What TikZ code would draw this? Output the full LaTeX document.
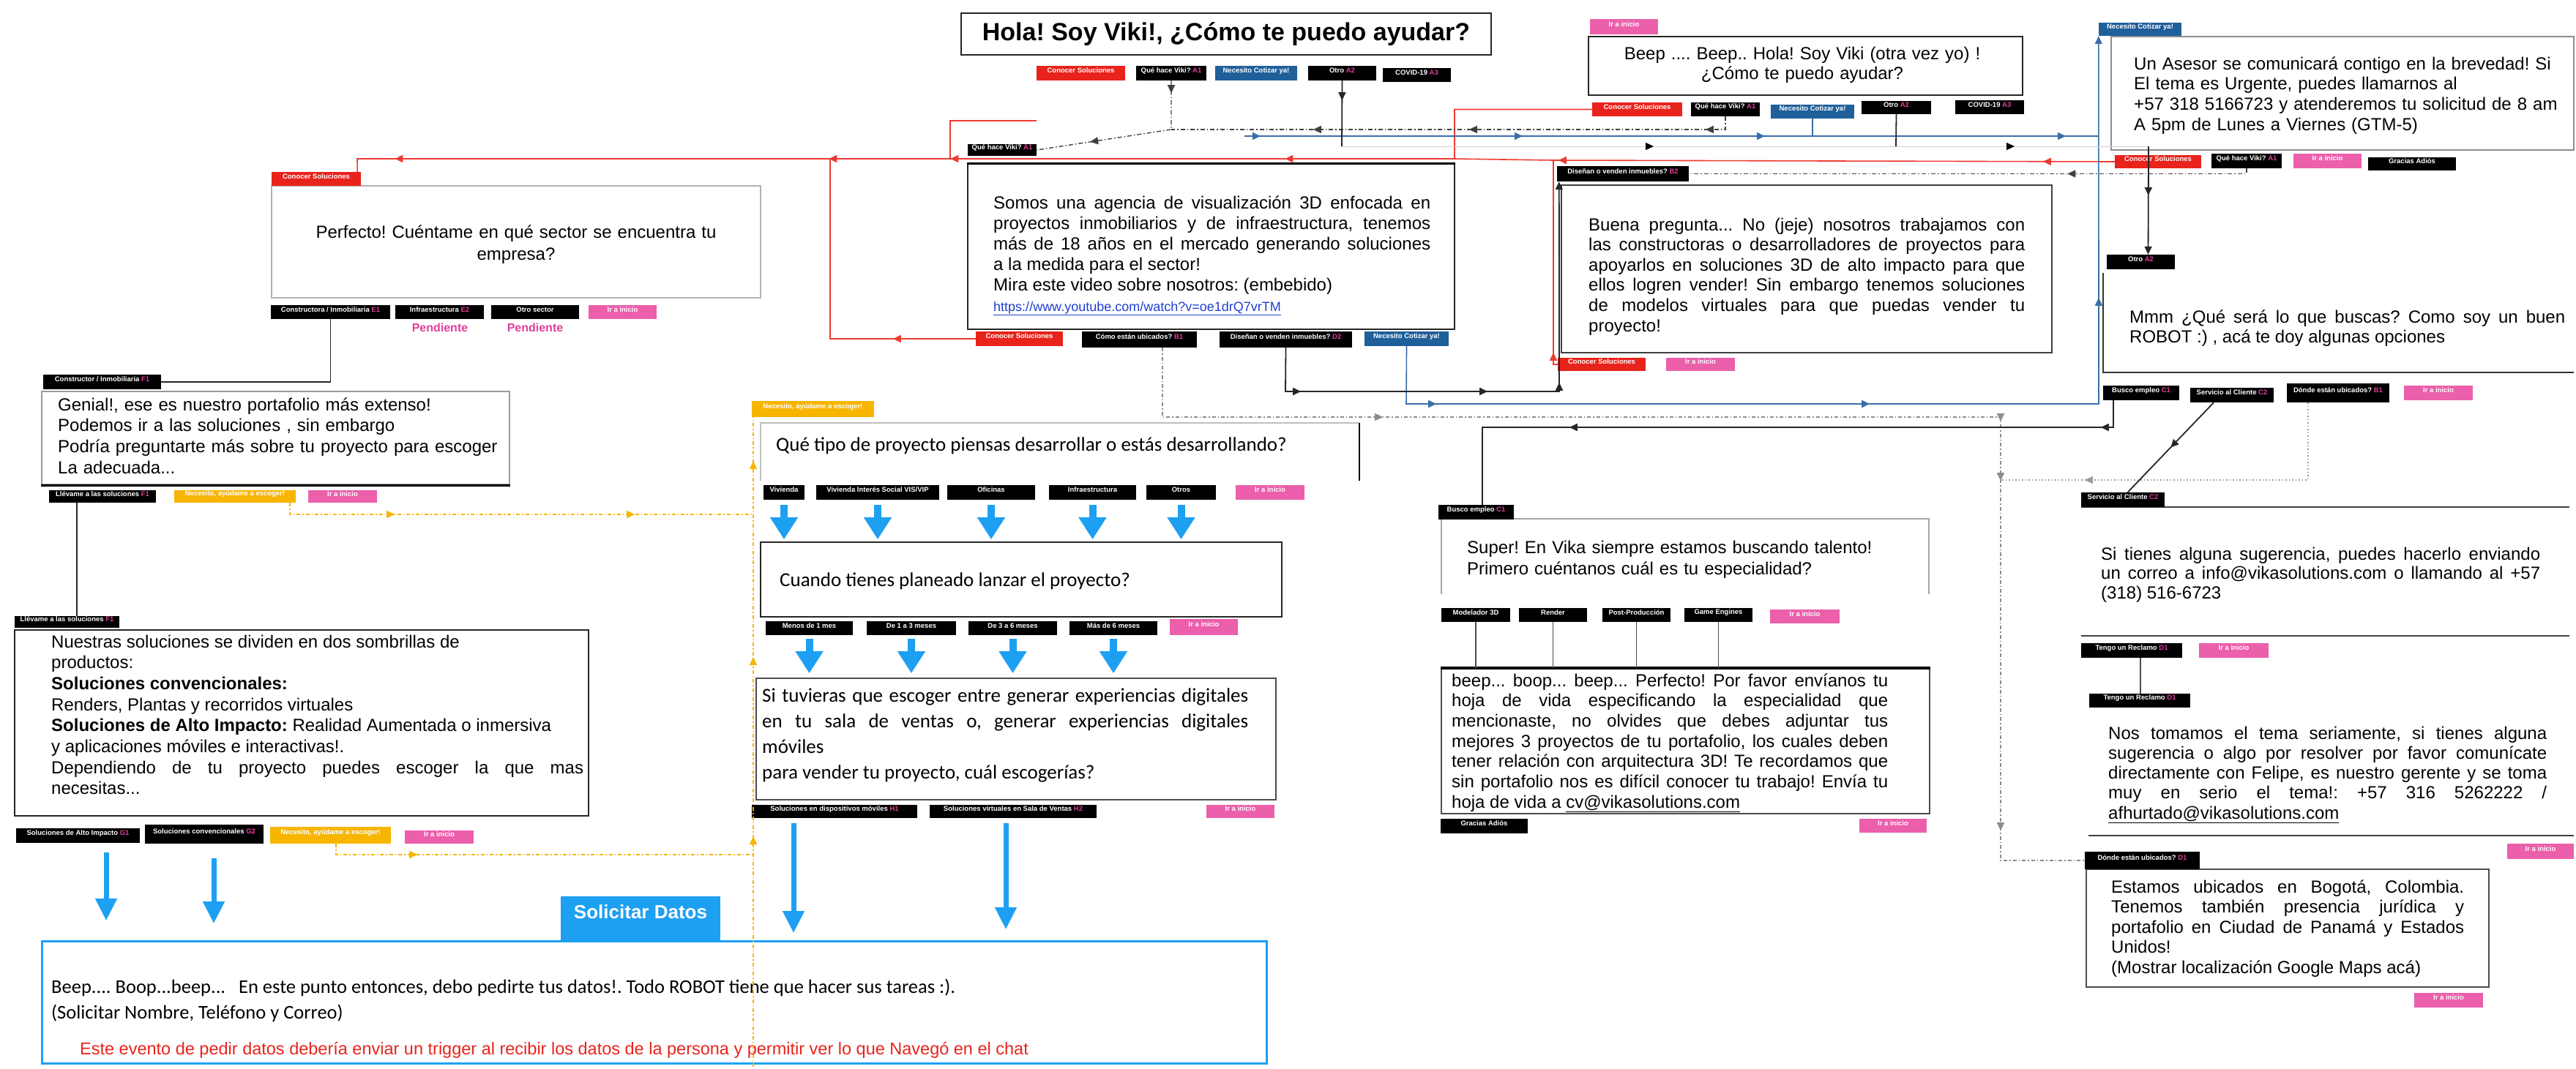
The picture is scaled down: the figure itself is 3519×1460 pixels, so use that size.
\documentclass[tikz,border=0pt]{standalone}
\usepackage{fontspec}
\setmainfont{Liberation Sans}
\newfontfamily\calfont{Carlito}
\usetikzlibrary{fit,arrows.meta,decorations.markings}
\frenchspacing
\definecolor{cRed}{HTML}{E8231B}
\definecolor{cRedL}{HTML}{EE3B33}
\definecolor{cBlue}{HTML}{1F5F9A}
\definecolor{cBlueL}{HTML}{3A6EA8}
\definecolor{cLBlue}{HTML}{1EA0F2}
\definecolor{cPink}{HTML}{EB5FAB}
\definecolor{cMag}{HTML}{E0409A}
\definecolor{cYel}{HTML}{F7B500}
\definecolor{cLink}{HTML}{1F3FD0}
\newcommand\fsz[2]{\fontsize{#1}{#2}\selectfont}
\newcommand\tcd[1]{\textcolor{cMag}{#1}}
\newcommand\tg[7]{\node[tagst,fill=#6,fit={(#2,#3)(#4,#5)}] (#1) {#7};}
\tikzset{
 tagst/.style={inner sep=0pt, text=white, font=\bfseries\fsz{9.5}{10.5}, align=center},
 bxk/.style={draw=black!85, line width=2.2pt, inner sep=0pt},
 bxg/.style={draw=black!30, line width=2pt, inner sep=0pt},
 body/.style={inner sep=0pt, font=\frenchspacing\fsz{24}{#1}},
 marr/.style={postaction={decorate,decoration={markings,mark=at position #1 with {\arrow{Triangle[length=11pt,width=10pt]}}}}},
 marrk/.style={postaction={decorate,decoration={markings,mark=at position #1 with {\arrow{Triangle[length=11pt,width=10pt,color=black]}}}}},
 redl/.style={draw=cRedL, line width=1.6pt},
 bluel/.style={draw=cBlueL, line width=1.6pt},
 blk/.style={draw=black!85, line width=1.8pt},
 thinblk/.style={draw=black!70, line width=1.2pt},
 dkdash/.style={draw=black!75, line width=1.4pt, dash pattern=on 6pt off 3pt on 1.5pt off 3pt},
 dashgray/.style={draw=black!45, line width=1.2pt, dash pattern=on 5pt off 3pt on 1.5pt off 3pt},
 dotgray/.style={draw=black!40, line width=1.2pt, dash pattern=on 1.5pt off 3pt},
 yel/.style={draw=cYel, line width=1.4pt, dash pattern=on 5pt off 3pt on 1.5pt off 3pt},
 faintl/.style={draw=black!18, line width=1pt},
 bigar/.style={draw=cLBlue, line width=10pt, -{Triangle[length=30pt,width=36pt]}},
 bigarb/.style={draw=cLBlue, line width=7pt, -{Triangle[length=30pt,width=28pt]}},
}
\begin{document}
\begin{tikzpicture}[x=1pt,y=-1pt]
\useasboundingbox (0,0) rectangle (3519,1460);
\fill[white] (0,0) rectangle (3519,1460);

% ---------------- boxes ----------------
\node[bxk, line width=2.5pt, fit={(1313,18)(2037,75)}] (title) {};
\node[font=\bfseries\fsz{34}{38}] (titletxt) at (1675,47) {Hola! Soy Viki!, ¿Cómo te puedo ayudar?};

\node[bxg, fit={(371,254)(1039,407)}] (perf) {};
\node[body=30, anchor=base, text width=640pt, align=center] (perftxt) at (705,325) {Perfecto! Cuéntame en qué sector se encuentra tu\\ empresa?};
\node[text=cMag, font=\bfseries\fsz{16}{18}] (pend1) at (601,448) {Pendiente};
\node[text=cMag, font=\bfseries\fsz{16}{18}] (pend2) at (731,448) {Pendiente};

\node[bxk, line width=1.5pt, fit={(1322,224)(1987,450)}] (somos) {};
\draw[line width=3.5pt] (somos.north west) -- (somos.north east);
\node[body=28, anchor=base west, text width=597pt, align=justify] (somostxt) at (1357,285) {Somos una agencia de visualización 3D enfocada en\linebreak proyectos inmobiliarios y de infraestructura, tenemos\linebreak más de 18 años en el mercado generando soluciones\linebreak a la medida para el sector!\\ Mira este video sobre nosotros: (embebido)\\ {\fsz{18}{28}\color{cLink}\underline{https://www.youtube.com/watch?v=oe1drQ7vrTM}}};

\node[bxk, line width=2pt, fit={(2170,50)(2763,130)}] (beepbox) {};
\node[body=27, anchor=base, text width=580pt, align=center] (beeptxt) at (2462,81) {Beep .... Beep.. Hola! Soy Viki (otra vez yo) !\\ ¿Cómo te puedo ayudar?};

\node[bxg, draw=black!45, fit={(2884,50)(3516,205)}] (asesor) {};
\node[body=27.7, anchor=base west, text width=600pt, align=left] (asesortxt) at (2915,95) {Un Asesor se comunicará contigo en la brevedad! Si\\ El tema es Urgente, puedes llamarnos al\\ +57 318 5166723 y atenderemos tu solicitud de 8 am\\ A 5pm de Lunes a Viernes (GTM-5)};

\node[bxk, line width=2.5pt, draw=black!75, fit={(2133,253)(2803,482)}] (buena) {};
\node[body=27.6, anchor=base west, text width=596pt, align=justify] (buenatxt) at (2170,315) {Buena pregunta... No (jeje) nosotros trabajamos con\linebreak las constructoras o desarrolladores de proyectos para\linebreak apoyarlos en soluciones 3D de alto impacto para que\linebreak ellos logren vender! Sin embargo tenemos soluciones\linebreak de modelos virtuales para que puedas vender tu\linebreak proyecto!};

\draw[black!80, line width=2pt] (2873,373) -- (2873,509) -- (3516,509);
\node[body=27, anchor=base west, text width=595pt, align=justify] (mmmtxt) at (2909,441) {Mmm ¿Qué será lo que buscas? Como soy un buen\linebreak ROBOT :) , acá te doy algunas opciones};

\node[bxg, draw=black!40, fit={(57,535)(696,662)}] (genial) {};
\draw[line width=3pt] (genial.south west) -- (genial.south east);
\node[body=28.7, anchor=base west, text width=640pt, align=left] (genialtxt) at (79,561) {Genial!, ese es nuestro portafolio más extenso!\\ Podemos ir a las soluciones , sin embargo\\ Podría preguntarte más sobre tu proyecto para escoger\\ La adecuada...};

\node[bxk, line width=2pt, fit={(20,861)(804,1115)}] (nuestras) {};
\node[body=28.7, anchor=base west, text width=727pt, align=justify] (nuestrastxt) at (70,885) {Nuestras soluciones se dividen en dos sombrillas de\\ productos:\\ \textbf{Soluciones convencionales:}\\ Renders, Plantas y recorridos virtuales\\ \textbf{Soluciones de Alto Impacto:} Realidad Aumentada o inmersiva\\ y aplicaciones móviles e interactivas!.\\ Dependiendo de tu proyecto puedes escoger la que mas\linebreak necesitas...};

\node[inner sep=0pt, fit={(1039,578)(1857,657)}] (quetipo) {};
\draw[black!25, line width=1.5pt] (quetipo.north east) -- (quetipo.north west) -- (quetipo.south west);
\draw[black, line width=2pt] (quetipo.north east) -- (quetipo.south east);
\node[font=\calfont\fsz{27}{32}, anchor=base west, inner sep=0pt] (qttxt) at (1060,616) {Qué tipo de proyecto piensas desarrollar o estás desarrollando?};

\node[bxk, fit={(1039,741)(1751,843)}] (cuando) {};
\node[font=\calfont\fsz{27}{32}, anchor=base west, inner sep=0pt] (cuandotxt) at (1065,801) {Cuando tienes planeado lanzar el proyecto?};

\node[bxk, draw=black!70, fit={(1033,927)(1743,1093)}] (sit) {};
\node[font=\calfont\fsz{27}{35}, anchor=base west, inner sep=0pt, text width=664pt, align=justify] (sittxt) at (1041,959) {Si tuvieras que escoger entre generar experiencias digitales\linebreak en tu sala de ventas o, generar experiencias digitales\linebreak móviles\\ para vender tu proyecto, cuál escogerías?};

\node[inner sep=0pt, fit={(1969,709)(2635,812)}] (super) {};
\draw[black!35, line width=2pt] (super.south west) -- (super.north west) -- (super.north east) -- (super.south east);
\node[body=29, anchor=base west, text width=620pt, align=left] (supertxt) at (2004,756) {Super! En Vika siempre estamos buscando talento!\\ Primero cuéntanos cuál es tu especialidad?};

\node[bxk, draw=black!70, line width=2pt, fit={(1969,914)(2636,1112)}] (beep2) {};
\draw[line width=3.5pt] (beep2.north west) -- (beep2.north east);
\node[body=27.7, anchor=base west, text width=596pt, align=justify] (beep2txt) at (1983,938) {beep... boop... beep... Perfecto! Por favor envíanos tu\linebreak hoja de vida especificando la especialidad que\linebreak mencionaste, no olvides que debes adjuntar tus\linebreak mejores 3 proyectos de tu portafolio, los cuales deben\linebreak tener relación con arquitectura 3D! Te recordamos que\linebreak sin portafolio nos es difícil conocer tu trabajo! Envía tu\linebreak hoja de vida a \underline{cv@vikasolutions.com}};

\node[inner sep=0pt, fit={(2843,693)(3510,869)}] (sitienes) {};
\draw[black!75, line width=2.5pt] (sitienes.north west) -- (sitienes.north east);
\draw[black!75, line width=2.5pt] (sitienes.south west) -- (sitienes.south east);
\node[body=26.5, anchor=base west, text width=600pt, align=justify] (sitienestxt) at (2870,765) {Si tienes alguna sugerencia, puedes hacerlo enviando\linebreak un correo a info@vikasolutions.com o llamando al +57\linebreak (318) 516-6723};

\node[body=27.3, anchor=base west, text width=599pt, align=justify] (reclamotxt) at (2880,1010) {Nos tomamos el tema seriamente, si tienes alguna\linebreak sugerencia o algo por resolver por favor comunícate\linebreak directamente con Felipe, es nuestro gerente y se toma\linebreak muy en serio el tema!: +57 316 5262222 /\linebreak \underline{afhurtado@vikasolutions.com}};
\draw[black!75, line width=2.5pt] (2853,1142) -- (3516,1142);

\node[bxk, draw=black!70, line width=2pt, fit={(2850,1188)(3400,1349)}] (estamos) {};
\node[body=27.5, anchor=base west, text width=482pt, align=justify] (estamostxt) at (2884,1220) {Estamos ubicados en Bogotá, Colombia.\linebreak Tenemos también presencia jurídica y\linebreak portafolio en Ciudad de Panamá y Estados\linebreak Unidos!\\ (Mostrar localización Google Maps acá)};

\node[draw=cLBlue, line width=3pt, inner sep=0pt, fit={(57,1286)(1730,1453)}] (solbox) {};
\node[fill=cLBlue, text=white, font=\bfseries\fsz{26}{28}, inner sep=0pt, fit={(766,1225)(984,1286)}] (soltab) {Solicitar Datos};
\node[font=\calfont\fsz{26.5}{32}, anchor=base west, inner sep=0pt] (soltx1) at (70,1357) {Beep.... Boop...beep...\ \ \ En este punto entonces, debo pedirte tus datos!. Todo ROBOT tiene que hacer sus tareas :).};
\node[font=\calfont\fsz{26.5}{32}, anchor=base west, inner sep=0pt] (soltx2) at (70,1392) {(Solicitar Nombre, Teléfono y Correo)};
\node[font=\fsz{23.5}{28}, text=cRed, anchor=base west, inner sep=0pt] (soltx3) at (109,1441) {Este evento de pedir datos debería enviar un trigger al recibir los datos de la persona y permitir ver lo que Navegó en el chat};

% ---------------- tags ----------------
\tg{tRed0}{1416}{90}{1537}{110}{cRed}{Conocer Soluciones}
\tg{tQH0}{1552}{90}{1648}{110}{black}{Qué hace Viki? \tcd{A1}}
\tg{tNC0}{1660}{90}{1772}{110}{cBlue}{Necesito Cotizar ya!}
\tg{tOtro0}{1787}{90}{1880}{110}{black}{Otro \tcd{A2}}
\tg{tCov0}{1889}{93}{1982}{112}{black}{COVID-19 \tcd{A3}}
\tg{tQH1}{1322}{197}{1416}{213}{black}{Qué hace Viki? \tcd{A1}}
\tg{tRedP}{371}{235}{493}{254}{cRed}{Conocer Soluciones}
\tg{tE1}{370}{417}{533}{436}{black}{Constructora / Inmobiliaria \tcd{E1}}
\tg{tE2}{540}{417}{661}{436}{black}{Infraestructura \tcd{E2}}
\tg{tE3}{671}{417}{791}{436}{black}{Otro sector}
\tg{tPinkP}{804}{417}{897}{436}{cPink}{Ir a inicio}
\tg{tRedS}{1333}{453}{1452}{473}{cRed}{Conocer Soluciones}
\tg{tB1s}{1478}{453}{1635}{475}{black}{Cómo están ubicados? \tcd{B1}}
\tg{tD2s}{1666}{453}{1847}{475}{black}{Diseñan o venden inmuebles? \tcd{D2}}
\tg{tNCs}{1864}{453}{1979}{473}{cBlue}{Necesito Cotizar ya!}
\tg{tPinkB}{2172}{26}{2265}{47}{cPink}{Ir a inicio}
\tg{tRedB}{2175}{140}{2298}{159}{cRed}{Conocer Soluciones}
\tg{tQHB}{2310}{140}{2404}{159}{black}{Qué hace Viki? \tcd{A1}}
\tg{tNCB}{2419}{143}{2533}{162}{cBlue}{Necesito Cotizar ya!}
\tg{tOtroB}{2543}{138}{2638}{156}{black}{Otro \tcd{A2}}
\tg{tCovB}{2671}{137}{2765}{156}{black}{COVID-19 \tcd{A3}}
\tg{tB2}{2127}{227}{2307}{248}{black}{Diseñan o venden inmuebles? \tcd{B2}}
\tg{tRedBu}{2128}{489}{2248}{507}{cRed}{Conocer Soluciones}
\tg{tPinkBu}{2276}{489}{2370}{507}{cPink}{Ir a inicio}
\tg{tNCA}{2867}{31}{2980}{49}{cBlue}{Necesito Cotizar ya!}
\tg{tRedA}{2889}{212}{3007}{230}{cRed}{Conocer Soluciones}
\tg{tQHA}{3021}{210}{3117}{230}{black}{Qué hace Viki? \tcd{A1}}
\tg{tPinkA}{3133}{210}{3226}{230}{cPink}{Ir a inicio}
\tg{tGrA}{3235}{215}{3355}{233}{black}{Gracias Adiós}
\tg{tOtroM}{2878}{348}{2971}{368}{black}{Otro \tcd{A2}}
\tg{tC1}{2873}{527}{2977}{547}{black}{Busco empleo \tcd{C1}}
\tg{tC2}{2992}{530}{3106}{550}{black}{Servicio al Cliente \tcd{C2}}
\tg{tB1r}{3124}{524}{3264}{550}{black}{Dónde están ubicados? \tcd{B1}}
\tg{tPinkM}{3284}{527}{3378}{547}{cPink}{Ir a inicio}
\tg{tC2b}{2843}{673}{2957}{693}{black}{Servicio al Cliente \tcd{C2}}
\tg{tD1}{2843}{879}{2981}{899}{black}{Tengo un Reclamo \tcd{D1}}
\tg{tPinkST}{3004}{879}{3099}{899}{cPink}{Ir a inicio}
\tg{tD1b}{2854}{948}{2992}{967}{black}{Tengo un Reclamo \tcd{D1}}
\tg{tPinkR}{3425}{1153}{3516}{1174}{cPink}{Ir a inicio}
\tg{tD1e}{2848}{1164}{3005}{1188}{black}{Dónde están ubicados? \tcd{D1}}
\tg{tPinkE}{3298}{1357}{3392}{1377}{cPink}{Ir a inicio}
\tg{tF1a}{59}{512}{220}{532}{black}{Constructor / Inmobiliaria \tcd{F1}}
\tg{tF1b}{67}{670}{213}{687}{black}{Llévame a las soluciones \tcd{F1}}
\tg{tY1}{238}{670}{404}{687}{cYel}{Necesito, ayúdame a escoger!}
\tg{tPinkG}{421}{670}{515}{687}{cPink}{Ir a inicio}
\tg{tF1c}{20}{842}{163}{858}{black}{Llévame a las soluciones \tcd{F1}}
\tg{tG1}{22}{1132}{191}{1152}{black}{Soluciones de Alto Impacto \tcd{G1}}
\tg{tG2}{198}{1127}{360}{1153}{black}{Soluciones convencionales \tcd{G2}}
\tg{tY2}{369}{1130}{534}{1153}{cYel}{Necesito, ayúdame a escoger!}
\tg{tPinkN}{553}{1135}{647}{1153}{cPink}{Ir a inicio}
\tg{tY3}{1027}{548}{1194}{570}{cYel}{Necesito, ayúdame a escoger!}
\tg{tV1}{1043}{663}{1099}{683}{black}{Vivienda}
\tg{tV2}{1115}{663}{1283}{683}{black}{Vivienda Interés Social VIS/VIP}
\tg{tV3}{1294}{663}{1414}{683}{black}{Oficinas}
\tg{tV4}{1433}{663}{1552}{683}{black}{Infraestructura}
\tg{tV5}{1566}{663}{1661}{683}{black}{Otros}
\tg{tPinkQ}{1688}{663}{1782}{683}{cPink}{Ir a inicio}
\tg{tM1}{1046}{849}{1165}{868}{black}{Menos de 1 mes}
\tg{tM2}{1184}{849}{1306}{868}{black}{De 1 a 3 meses}
\tg{tM3}{1323}{849}{1444}{868}{black}{De 3 a 6 meses}
\tg{tM4}{1461}{849}{1581}{868}{black}{Más de 6 meses}
\tg{tPinkC}{1598}{846}{1691}{868}{cPink}{Ir a inicio}
\tg{tH1}{1027}{1100}{1253}{1118}{black}{Soluciones en dispositivos móviles \tcd{H1}}
\tg{tH2}{1270}{1100}{1498}{1118}{black}{Soluciones virtuales en Sala de Ventas \tcd{H2}}
\tg{tPinkH}{1648}{1100}{1741}{1118}{cPink}{Ir a inicio}
\tg{tC1s}{1965}{690}{2068}{710}{black}{Busco empleo \tcd{C1}}
\tg{tS1}{1969}{831}{2063}{850}{black}{Modelador 3D}
\tg{tS2}{2075}{831}{2168}{850}{black}{Render}
\tg{tS3}{2189}{831}{2282}{850}{black}{Post-Producción}
\tg{tS4}{2301}{831}{2394}{850}{black}{Game Engines}
\tg{tPinkSu}{2418}{833}{2513}{852}{cPink}{Ir a inicio}
\tg{tGrB}{1968}{1119}{2087}{1139}{black}{Gracias Adiós}
\tg{tPinkBe}{2540}{1119}{2632}{1138}{cPink}{Ir a inicio}

% ---------------- connectors ----------------
% red
\coordinate (rJ0) at (1987,217);
\draw[redl, marr=487pt, marr=944pt, marr=1110pt, marr=1703pt] (tRedB.west) -| (rJ0) -- (488,217) -- ([xshift=-5pt]tRedP.north east);
\draw[redl, marr=113pt] (tRedS.west) -- (1134,463) -- (1134,217);
\coordinate (r3) at (1416,165);
\draw[redl] (r3) -- (1298,165) -- (1298,217);
\draw[redl, marr=98pt, marr=760pt] (tRedA.west) -- (2122,219) -- (rJ0);
\draw[redl, marr=22pt] (tRedBu.west) -- (2122,498) -- (2122,219);

% black dash-dot from "Que hace Viki"
\coordinate (kJ) at (1600,177);
\draw[dkdash, marr=17pt, marr=179pt] (tQH0.south) -- (kJ) -- (tQH1.east);
\draw[dkdash, marr=45pt, marr=368pt, marr=581pt] (tQHB.south) -- (2357,177) -- (kJ);
\draw[dkdash, marr=252pt] (tQHA.south) |- (tB2.east);

% blue
\coordinate (b0) at (1700,186);
\draw[bluel, marr=22pt, marr=380pt, marr=711pt, marr=1122pt] (b0) -- (2867,186);
\draw[bluel] (tNCB.south) -- (2476,186);
\draw[bluel, marr=120pt, marr=712pt, marr=1170pt, -{Triangle[length=11pt,width=10pt]}] (tNCs.south) -- (1921,552) -- (2867,552) -- (tNCA.south west);

% black "Otro"
\coordinate (kA) at (1833,200);
\coordinate (kB) at (2935,200);
\draw[blk, marr=27pt] (tOtro0.south) -- (kA);
\draw[faintl, marrk=426pt, marrk=919pt] (kA) -- (kB);
\draw[blk] (tOtroB.south) -- (2590,200);
\draw[blk, marr=67pt, -{Triangle[length=11pt,width=10pt]}] (kB) -- ([xshift=10pt]tOtroM.north);

% D2 -> B2
\draw[blk, marr=81pt, marr=336pt, marr=446pt, -{Triangle[length=11pt,width=10pt]}] (tD2s.south) -- (1756,535) -- (2130,535) -- ([xshift=3pt]tB2.south west);

% B1 -> D1 (dashed)
\draw[dashgray, marr=396pt, marr=1246pt, marr=1327pt, marr=1805pt] ([xshift=31.5pt]tB1s.south) -- (1588,570) -- (2733,570) -- (2733,1176) -- (tD1e.west);
\draw[dotgray, marr=411pt] ([xshift=-41pt]tB1r.south) -- (3153,656) -- (2733,656);

% C1, C2
\draw[blk, marr=54pt, marr=780pt] ([xshift=-38pt]tC1.south) -- (2887,584) -- (2025,584) -- ([xshift=8.5pt]tC1s.north);
\draw[blk, marr=85pt] ([xshift=-25pt]tC2.south) -- ([xshift=6.5pt]tC2b.north);

% left side
\draw[blk] (tE1.south) |- (tF1a.east);
\draw[blk] ([xshift=-35pt]tF1b.south) -- ([xshift=13.5pt]tF1c.north);

% yellow
\draw[yel, marr=159pt, marr=487pt] ([xshift=75pt]tY1.south) -- (396,703) -- (1029,703);
\draw[yel, marr=126pt] ([xshift=7.5pt]tY2.south) -- (459,1168) -- (1029,1168);
\coordinate (yB) at (1029,1458);
\draw[yel, marr=315pt, marr=560pt, marr=828pt] (yB) -- ([xshift=-81.5pt]tY3.south);

% thin
\draw[thinblk] ([xshift=12pt]tD1.south) -- ([xshift=1pt]tD1b.north);
\foreach \t in {tS1,tS2,tS3,tS4} \draw[thinblk] (\t.south) -- (\t.south |- beep2.north);

% big blue arrows
\foreach \t in {tV1,tV2,tV3,tV4,tV5} \draw[bigar] ([yshift=-7pt]\t.south) -- ++(0,47);
\foreach \t in {tM1,tM2,tM3,tM4} \draw[bigar] ([yshift=-5pt]\t.south) -- ++(0,47);
\draw[bigarb] ([xshift=-56pt,yshift=-7pt]tH1.south) -- ++(0,150);
\draw[bigarb] ([xshift=-10pt,yshift=-7pt]tH2.south) -- ++(0,145);
\draw[bigarb] ([xshift=38.5pt,yshift=-13pt]tG1.south) -- ++(0,93);
\draw[bigarb] ([xshift=13pt,yshift=-20pt]tG2.south) -- ++(0,89);
\end{tikzpicture}
\end{document}
